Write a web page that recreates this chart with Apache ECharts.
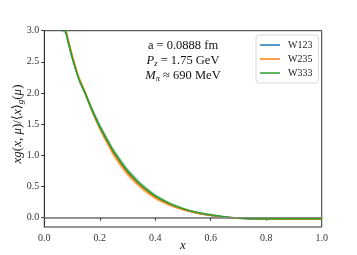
<!DOCTYPE html>
<html>
<head>
<meta charset="utf-8">
<script src="https://cdn.jsdelivr.net/npm/echarts@6/dist/echarts.min.js"></script>
<style>html,body{margin:0;padding:0;background:#fff}#c{width:357px;height:255px}</style>
</head>
<body>
<div id="c"></div>
<script>
var xValues = [0.06, 0.077, 0.09, 0.105, 0.125, 0.147, 0.17, 0.2, 0.25, 0.3, 0.35, 0.4, 0.45, 0.5, 0.55, 0.6, 0.65, 0.7, 0.75, 0.8, 0.9, 1.0];
var w123 = [3.60, 3.00, 2.75, 2.50, 2.22, 2.00, 1.75, 1.46, 1.05, 0.74, 0.51, 0.34, 0.22, 0.135, 0.075, 0.035, 0.008, -0.010, -0.020, -0.022, -0.020, -0.018];
var w235 = [3.66, 3.05, 2.79, 2.53, 2.24, 2.01, 1.74, 1.44, 1.02, 0.71, 0.49, 0.32, 0.21, 0.130, 0.075, 0.040, 0.012, -0.008, -0.018, -0.022, -0.025, -0.025];
var w333 = [3.60, 3.00, 2.75, 2.50, 2.22, 2.00, 1.75, 1.46, 1.06, 0.75, 0.52, 0.35, 0.23, 0.145, 0.085, 0.045, 0.015, -0.005, -0.015, -0.018, -0.018, -0.016];
var err123 = [0.06, 0.05, 0.045, 0.04, 0.04, 0.04, 0.045, 0.05, 0.05, 0.045, 0.04, 0.03, 0.025, 0.018, 0.014, 0.01, 0.008, 0.006, 0.005, 0.005, 0.005, 0.005];
var err235 = [0.06, 0.05, 0.05, 0.05, 0.05, 0.05, 0.055, 0.06, 0.065, 0.06, 0.05, 0.04, 0.03, 0.022, 0.016, 0.012, 0.008, 0.006, 0.005, 0.005, 0.005, 0.005];
var err333 = [0.06, 0.05, 0.045, 0.04, 0.04, 0.04, 0.045, 0.05, 0.055, 0.05, 0.045, 0.035, 0.028, 0.02, 0.015, 0.01, 0.008, 0.006, 0.005, 0.005, 0.005, 0.005];
var yTicks = [0, 0.5, 1.0, 1.5, 2.0, 2.5, 3.0];
var xTicks = [0, 0.2, 0.4, 0.6, 0.8, 1.0];

var serif = 'Liberation Serif, DejaVu Serif, serif';
var names = ['W123', 'W235', 'W333'];
var centers = [w123, w235, w333];
var errs = [err123, err235, err333];
var colors = ['#1f77b4', '#ff7f0e', '#2ca02c'];

function pairs(ys) { return xValues.map(function (x, i) { return [x, ys[i]]; }); }

function bandSeries(k) {
  var c = centers[k], e = errs[k];
  return {
    type: 'custom', silent: true, clip: true, z: 1,
    data: [[0, 0]],
    renderItem: function (params, api) {
      var pts = [];
      for (var i = 0; i < xValues.length; i++) pts.push(api.coord([xValues[i], c[i] + e[i]]));
      for (var j = xValues.length - 1; j >= 0; j--) pts.push(api.coord([xValues[j], c[j] - e[j]]));
      var cs = params.coordSys;
      pts = echarts.graphic.clipPointsByRect(pts, { x: cs.x, y: cs.y, width: cs.width, height: cs.height });
      return { type: 'polygon', shape: { points: pts, smooth: 0 }, style: { fill: colors[k], opacity: 0.3 } };
    }
  };
}

var series = [];
for (var k = 0; k < 3; k++) series.push(bandSeries(k));
for (var k2 = 0; k2 < 3; k2++) {
  series.push({
    name: names[k2], type: 'line', data: pairs(centers[k2]), showSymbol: false, symbol: 'none',
    smooth: 0.3, clip: true, z: 3,
    lineStyle: { color: colors[k2], width: 1.5 }, itemStyle: { color: colors[k2] },
    markLine: k2 === 0 ? { silent: true, symbol: 'none', label: { show: false },
      lineStyle: { color: '#8a8a8a', width: 1, type: 'solid' }, data: [{ yAxis: 0 }] } : undefined
  });
}

var chart = echarts.init(document.getElementById('c'), null, { renderer: 'canvas' });
chart.setOption({
  animation: false,
  backgroundColor: '#fff',
  grid: { left: 44.3, right: 35.3, top: 30.7, bottom: 28, show: true, borderColor: '#333', borderWidth: 1 },
  legend: {
    data: names, left: 256, top: 35, orient: 'vertical', itemGap: 4, itemWidth: 20, itemHeight: 1.5,
    icon: 'rect', padding: [5, 6, 5, 4], borderColor: '#d8d8d8', borderWidth: 1, borderRadius: 3,
    backgroundColor: 'rgba(255,255,255,0.85)',
    textStyle: { fontFamily: serif, fontSize: 10, color: '#222', padding: [0, 0, 0, 3] }
  },
  xAxis: {
    type: 'value', min: 0, max: 1, interval: 0.2,
    axisLine: { show: true, lineStyle: { color: '#999', width: 2 } },
    axisTick: { show: true, length: 3, lineStyle: { color: '#333' }, customValues: xTicks },
    axisLabel: { fontFamily: serif, fontSize: 10, color: '#333', margin: 6, customValues: xTicks,
      formatter: function (v) { return v.toFixed(1); } },
    splitLine: { show: false }
  },
  yAxis: {
    type: 'value', min: -0.15, max: 3.0,
    axisLine: { show: true, lineStyle: { color: '#333', width: 1 } },
    axisTick: { show: true, length: 3, lineStyle: { color: '#333' }, customValues: yTicks },
    axisLabel: { fontFamily: serif, fontSize: 10, color: '#333', margin: 5, customValues: yTicks,
      formatter: function (v) { return v.toFixed(1); } },
    splitLine: { show: false }
  },
  graphic: [
    { type: 'text', x: 18, y: 124, rotation: Math.PI / 2,
      style: { text: '{a|xg}{b|(}{a|x}{b|, }{a|μ}{b|)/⟨}{a|x}{b|⟩}{s|g}{b|(}{a|μ}{b|)}', align: 'center', verticalAlign: 'middle',
        rich: { a: { fontFamily: serif, fontStyle: 'italic', fontSize: 13, fill: '#111' },
                b: { fontFamily: serif, fontSize: 13, fill: '#111' },
                s: { fontFamily: serif, fontStyle: 'italic', fontSize: 9, fill: '#111', padding: [6, 0, 0, 0] } } } },
    { type: 'text', x: 183, y: 246,
      style: { text: 'x', fontFamily: serif, fontStyle: 'italic', fontSize: 13, fill: '#111', align: 'center', verticalAlign: 'middle' } },
    { type: 'text', x: 183, y: 46,
      style: { text: 'a = 0.0888 fm', fontFamily: serif, fontSize: 12.5, fill: '#111', align: 'center', verticalAlign: 'middle' } },
    { type: 'text', x: 183, y: 61,
      style: { text: '{a|P}{s|z}{b| = 1.75 GeV}', align: 'center', verticalAlign: 'middle',
        rich: { a: { fontFamily: serif, fontStyle: 'italic', fontSize: 12.5, fill: '#111' },
                b: { fontFamily: serif, fontSize: 12.5, fill: '#111' },
                s: { fontFamily: serif, fontStyle: 'italic', fontSize: 8.5, fill: '#111', padding: [6, 0, 0, 0] } } } },
    { type: 'text', x: 183, y: 75.5,
      style: { text: '{a|M}{s|π}{b| ≈ 690 MeV}', align: 'center', verticalAlign: 'middle',
        rich: { a: { fontFamily: serif, fontStyle: 'italic', fontSize: 12.5, fill: '#111' },
                b: { fontFamily: serif, fontSize: 12.5, fill: '#111' },
                s: { fontFamily: serif, fontStyle: 'italic', fontSize: 8.5, fill: '#111', padding: [6, 0, 0, 0] } } } }
  ],
  series: series
});
</script>
</body>
</html>
